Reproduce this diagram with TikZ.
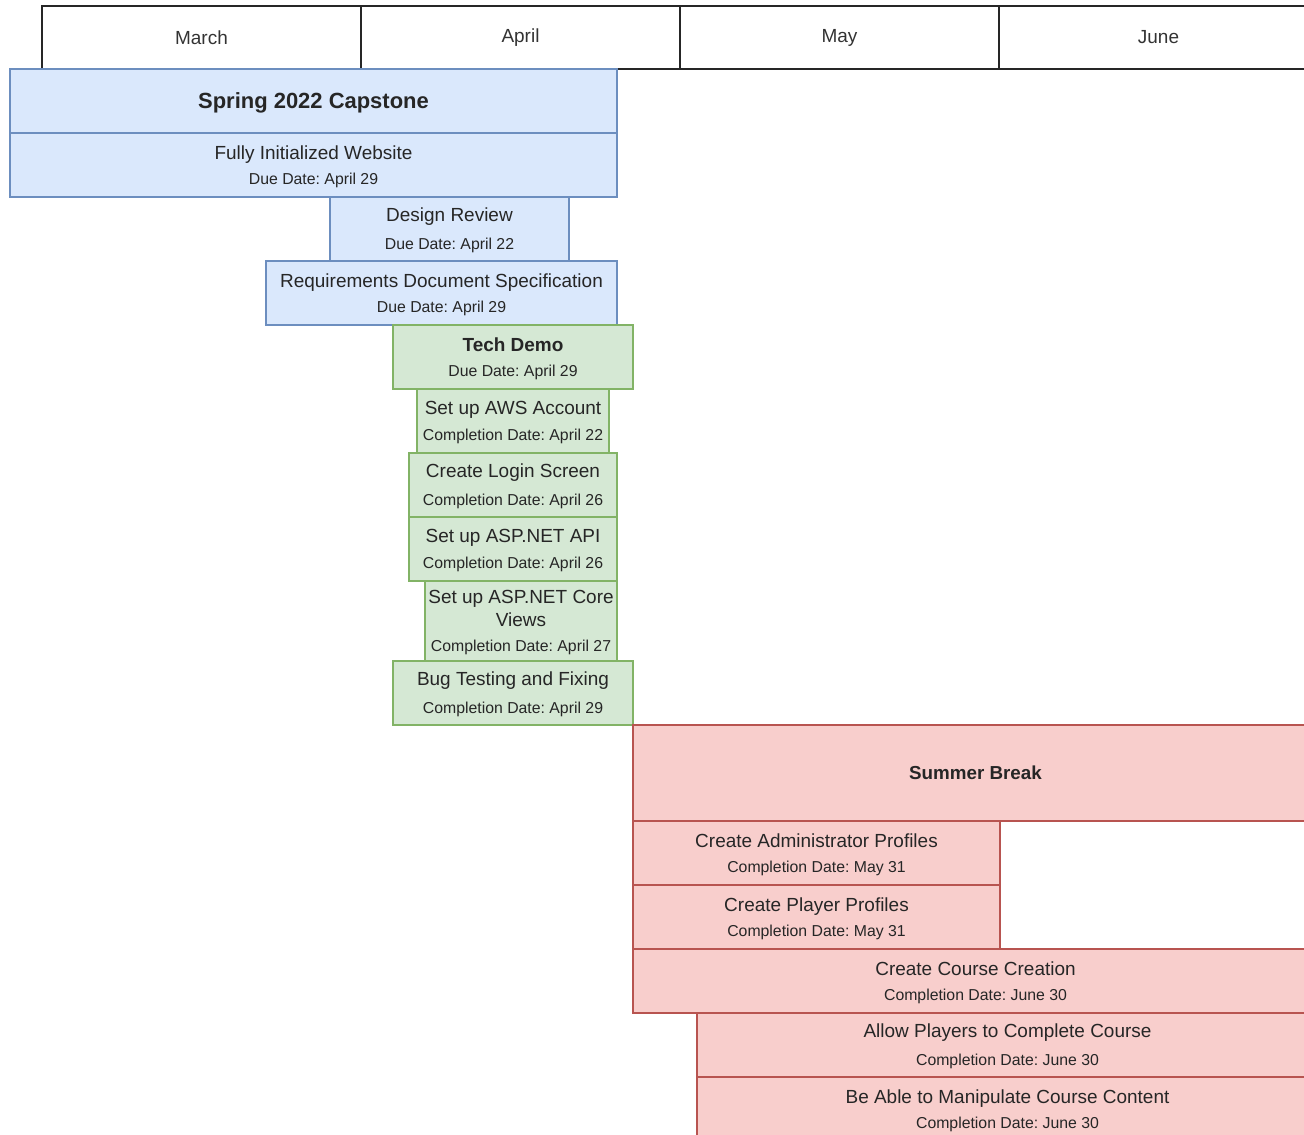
\documentclass[tikz,border=0pt]{standalone}
\usepackage{fontspec}
\setmainfont{Liberation Sans}
\frenchspacing
\definecolor{blueFill}{HTML}{DAE8FC}
\definecolor{blueLine}{HTML}{6C8EBF}
\definecolor{greenFill}{HTML}{D5E8D4}
\definecolor{greenLine}{HTML}{82B366}
\definecolor{redFill}{HTML}{F8CECC}
\definecolor{redLine}{HTML}{B85450}
\newcommand{\dateline}[1]{{\fontsize{9}{11}\selectfont #1}}
\begin{document}
\begin{tikzpicture}[
    x=0.02cm, y=-0.02cm,
    month/.style={draw=black!85, line width=1pt, anchor=north west, outer sep=0pt,
        minimum width=319*0.02cm, minimum height=63*0.02cm,
        text=black!80, font=\fontsize{10.8}{13}\selectfont},
    boxsize/.style 2 args={minimum width=#1*0.02cm, minimum height=#2*0.02cm},
    task/.style={draw, line width=1pt, anchor=north west, outer sep=0pt, inner sep=0pt,
        align=center, text=black!85, font=\fontsize{10.8}{13}\selectfont,
        text depth=-1.5pt},
    school/.style={task, fill=blueFill, draw=blueLine},
    demo/.style={task, fill=greenFill, draw=greenLine},
    summer/.style={task, fill=redFill, draw=redLine}
]

\useasboundingbox (0,0) rectangle (1304,1135);
\clip (0,0) rectangle (1304,1135);

% month header
\node[month] (march) at (42,6) {March};
\node[month] (april) at (361,6) {April};
\node[month] (may) at (680,6) {May};
\node[month] (june) at (999,6) {June};

% spring semester
\node[school, boxsize={607}{64}, text depth=0pt, font=\bfseries\fontsize{12.5}{15}\selectfont] (spring) at (10,69) {Spring 2022 Capstone};
\node[school, boxsize={607}{64}] (website) at (10,133) {Fully Initialized Website\\[1.5pt]\dateline{Due Date: April 29}};
\node[school, boxsize={239}{64}] (design) at (330,197) {Design Review\\[3pt]\dateline{Due Date: April 22}};
\node[school, boxsize={351}{64}] (reqs) at (266,261) {Requirements Document Specification\\[1.5pt]\dateline{Due Date: April 29}};

% tech demo
\node[demo, boxsize={240}{64}] (techdemo) at (393,325) {\textbf{Tech Demo}\\[1.5pt]\dateline{Due Date: April 29}};
\node[demo, boxsize={192}{64}] (aws) at (417,389) {Set up AWS Account\\[1.5pt]\dateline{Completion Date: April 22}};
\node[demo, boxsize={208}{64}] (login) at (409,453) {Create Login Screen\\[3pt]\dateline{Completion Date: April 26}};
\node[demo, boxsize={208}{64}] (api) at (409,517) {Set up ASP.NET API\\[1.5pt]\dateline{Completion Date: April 26}};
\node[demo, boxsize={192}{80}] (views) at (425,581) {Set up ASP.NET Core\\Views\\[1.5pt]\dateline{Completion Date: April 27}};
\node[demo, boxsize={240}{64}] (bugs) at (393,661) {Bug Testing and Fixing\\[3pt]\dateline{Completion Date: April 29}};

% summer break
\node[summer, boxsize={685}{96}, text depth=0pt, font=\bfseries\fontsize{10.7}{13}\selectfont] (break) at (633,725) {Summer Break};
\node[summer, boxsize={367}{64}] (admin) at (633,821) {Create Administrator Profiles\\[1.5pt]\dateline{Completion Date: May 31}};
\node[summer, boxsize={367}{64}] (players) at (633,885) {Create Player Profiles\\[1.5pt]\dateline{Completion Date: May 31}};
\node[summer, boxsize={685}{64}] (course) at (633,949) {Create Course Creation\\[1.5pt]\dateline{Completion Date: June 30}};
\node[summer, boxsize={621}{64}] (complete) at (697,1013) {Allow Players to Complete Course\\[3pt]\dateline{Completion Date: June 30}};
\node[summer, boxsize={621}{64}] (manipulate) at (697,1077) {Be Able to Manipulate Course Content\\[1.5pt]\dateline{Completion Date: June 30}};

\end{tikzpicture}
\end{document}
